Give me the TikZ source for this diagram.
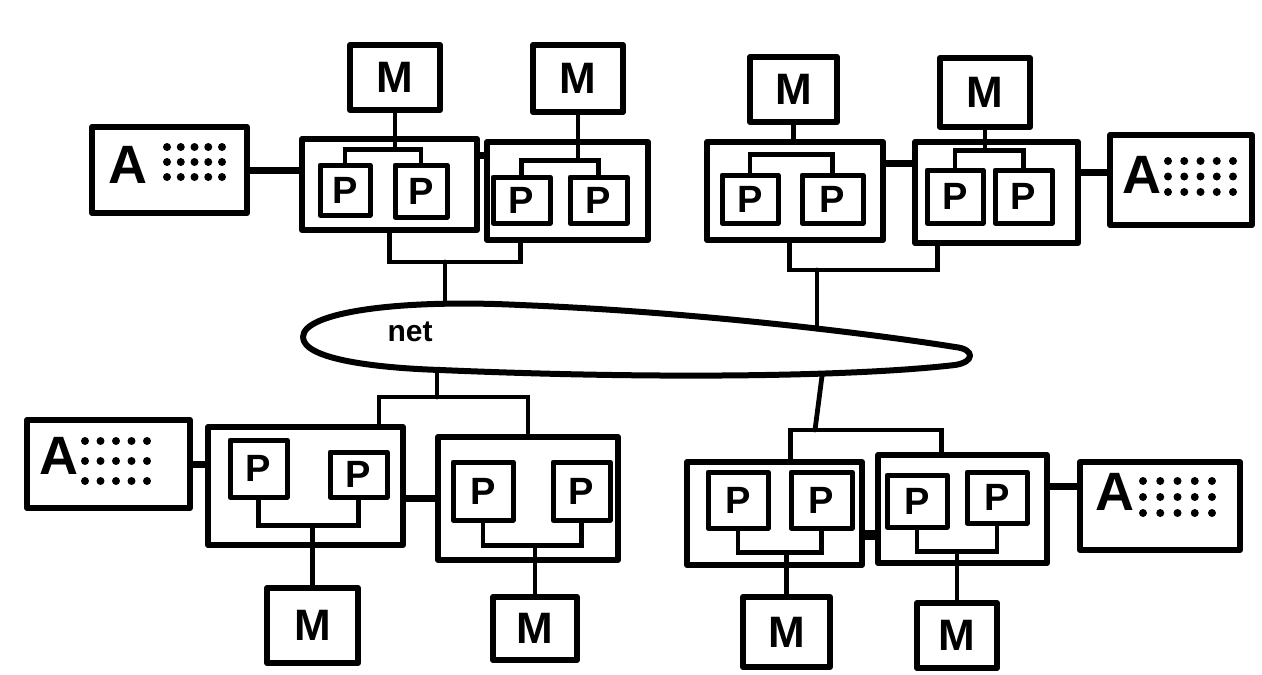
\documentclass[tikz,border=0pt]{standalone}
\usepackage{fontspec}
\setmainfont{Liberation Sans}
\usetikzlibrary{calc}
\tikzset{
  box/.style={draw, line width=6pt, rectangle, inner sep=0pt, line join=round},
  mbox/.style={box, font=\bfseries\fontsize{44}{44}\selectfont},
  pbox/.style={draw, line width=5pt, rectangle, inner sep=0pt, line join=round, font=\bfseries\fontsize{38}{38}\selectfont},
  wire/.style={line width=4.8pt, line cap=round},
  link/.style={line width=7pt},
  atext/.style={font=\bfseries\fontsize{54}{54}\selectfont, inner sep=0pt},
  nettext/.style={font=\bfseries\fontsize{30}{30}\selectfont, inner sep=0pt},
}
\newcommand\dotgrid[4]{%
  \foreach \i in {0,...,4}{\foreach \j in {0,1,2}{%
    \fill ({#1+\i*#3},{#2+\j*#4}) circle (4pt);}}}
\begin{document}
\begin{tikzpicture}[x=1pt,y=-1pt]
\useasboundingbox[fill=white] (0,0) rectangle (1262,675);

% ---------- top left group ----------
\node[box, minimum width=155pt, minimum height=86pt] (A1) at (169.5,170) {};
\node[atext] (A1t) at (128,165) {A};
\dotgrid{167}{147}{13.75}{15}
\node[box, minimum width=175pt, minimum height=91pt] (N1) at (389.5,184.5) {};
\node[box, minimum width=161pt, minimum height=98pt] (N2) at (567.5,191) {};
\node[mbox, minimum width=90pt, minimum height=65pt] (M1) at (395,77.5) {M};
\node[mbox, minimum width=90pt, minimum height=67pt] (M2) at (578,78.5) {M};
\node[pbox, minimum width=50pt, minimum height=50pt] (P1) at (345,190) {P};
\node[pbox, minimum width=52pt, minimum height=52pt] (P2) at (421,191) {P};
\node[pbox, minimum width=57pt, minimum height=46pt] (P3) at (521.5,200) {P};
\node[pbox, minimum width=57pt, minimum height=46pt] (P4) at (598.5,200) {P};

\draw[link] (A1.east) -- (A1.east -| N1.west);
\coordinate (l12) at ($(N1.north east)!0.2!(N1.south east)$);
\draw[link] (l12) -- (l12 -| N2.west);
\coordinate (b1) at ($(P1.north)+(0,-13)$);
\draw[wire] (P1.north) -- (b1) -| (P2.north);
\draw[wire] (M1.south) -- (M1.south |- b1);
\coordinate (b2) at ($(P3.north)+(0,-14)$);
\draw[wire] (P3.north) -- (b2) -| (P4.north);
\draw[wire] (M2.south) -- (M2.south |- b2);

% ---------- top right group ----------
\node[box, minimum width=176pt, minimum height=98pt] (N3) at (795,191) {};
\node[box, minimum width=163pt, minimum height=101pt] (N4) at (996.5,192.5) {};
\node[mbox, minimum width=87pt, minimum height=65pt] (M3) at (793.5,89.5) {M};
\node[mbox, minimum width=90pt, minimum height=69pt] (M4) at (985,92.5) {M};
\node[pbox, minimum width=56pt, minimum height=48pt] (P5) at (750,199) {P};
\node[pbox, minimum width=61pt, minimum height=48pt] (P6) at (832.5,199) {P};
\node[pbox, minimum width=56pt, minimum height=53pt] (P7) at (955,196.5) {P};
\node[pbox, minimum width=57pt, minimum height=53pt] (P8) at (1023.5,196.5) {P};
\node[box, minimum width=142pt, minimum height=90pt] (A2) at (1181,180) {};
\node[atext] (A2t) at (1142,175) {A};
\dotgrid{1168}{161}{16.25}{15.5}

\draw[wire] (M3.south) -- (M3.south |- N3.north);
\coordinate (b3) at ($(P5.north)+(0,-18)$);
\draw[wire] (P5.north) -- (b3) -| (P6.north);
\coordinate (b4) at ($(P7.north)+(0,-17)$);
\draw[wire] (P7.north) -- (b4) -| (P8.north);
\draw[wire] (M4.south) -- (M4.south |- b4);
\coordinate (l34) at ($(N3.north east)!0.235!(N3.south east)$);
\draw[link] (l34) -- (l34 -| N4.west);
\coordinate (l4a) at ($(A2.west)+(0,-8)$);
\draw[link] (l4a) -- (l4a -| N4.east);

% ---------- net ----------
\path[draw, line width=6pt, line join=round]
  (955,347) .. controls (880,335) and (700,312) .. (520,305)
  .. controls (400,299) and (303,312) .. (303,337)
  .. controls (303,360) and (380,368) .. (440,370)
  .. controls (650,379) and (850,377) .. (955,365)
  .. controls (975,362) and (975,349) .. (955,347) -- cycle;
\node[nettext] (netlbl) at (410,332) {net};
\coordinate (nT1) at (445,304);
\coordinate (nT2) at (817,329);
\coordinate (nB1) at (437,370);
\coordinate (nB2) at (822,376);

% top brackets
\coordinate (jTL) at (445,262);
\coordinate (n2b) at ($(N2.south west)!0.22!(N2.south east)$);
\draw[wire] (N1.south) -- (N1.south |- jTL) -- (jTL -| n2b) -- (n2b);
\draw[wire] (jTL) -- (nT1);
\coordinate (jTR) at (817,270);
\coordinate (n3b) at ($(N3.south west)!0.47!(N3.south east)$);
\coordinate (n4b) at ($(N4.south west)!0.15!(N4.south east)$);
\draw[wire] (n3b) -- (n3b |- jTR) -- (jTR -| n4b) -- (n4b);
\draw[wire] (jTR) -- (nT2);

% ---------- bottom left group ----------
\node[box, minimum width=163pt, minimum height=88pt] (A3) at (108.5,464) {};
\node[atext] (A3t) at (59,456) {A};
\dotgrid{85}{441}{15.5}{20}
\node[box, minimum width=195pt, minimum height=118pt] (N5) at (305.5,486) {};
\node[box, minimum width=180pt, minimum height=123pt] (N6) at (528,498.5) {};
\node[pbox, minimum width=57pt, minimum height=57pt] (P9) at (258.5,468.5) {P};
\node[pbox, minimum width=57pt, minimum height=45pt] (P10) at (358.5,474.5) {P};
\node[pbox, minimum width=60pt, minimum height=58pt] (P11) at (483,491) {P};
\node[pbox, minimum width=57pt, minimum height=58pt] (P12) at (581.5,491) {P};
\node[mbox, minimum width=91pt, minimum height=75pt] (M5) at (312.5,625.5) {M};
\node[mbox, minimum width=84pt, minimum height=63pt] (M6) at (535,628.5) {M};

\draw[link] (A3.east) -- (A3.east -| N5.west);
\coordinate (l56) at ($(N5.north east)!0.6!(N5.south east)$);
\draw[link] (l56) -- (l56 -| N6.west);
\coordinate (b5) at ($(P9.south)+(0,26)$);
\draw[wire] (P9.south) -- (b5) -| (P10.south);
\draw[wire] (M5.north) -- (M5.north |- b5);
\coordinate (b6) at ($(P11.south)+(0,23)$);
\draw[wire] (P11.south) -- (b6) -| (P12.south);
\draw[wire] (M6.north) -- (M6.north |- b6);

\coordinate (jBL) at (437,397);
\coordinate (n5t) at ($(N5.north west)!0.866!(N5.north east)$);
\draw[wire] (nB1) -- (jBL);
\draw[wire] (n5t) -- (n5t |- jBL) -- (jBL -| N6.north) -- (N6.north);

% ---------- bottom right group ----------
\node[box, minimum width=175pt, minimum height=103pt] (N7) at (774.5,513.5) {};
\node[box, minimum width=169pt, minimum height=108pt] (N8) at (962.5,509) {};
\node[pbox, minimum width=60pt, minimum height=56pt] (P13) at (738,500) {P};
\node[pbox, minimum width=61pt, minimum height=56pt] (P14) at (821.5,500) {P};
\node[pbox, minimum width=60pt, minimum height=52pt] (P15) at (917,501) {P};
\node[pbox, minimum width=60pt, minimum height=51pt] (P16) at (997,497.5) {P};
\node[mbox, minimum width=87pt, minimum height=70pt] (M7) at (786.5,632) {M};
\node[mbox, minimum width=80pt, minimum height=65pt] (M8) at (957,635.5) {M};
\node[box, minimum width=160pt, minimum height=88pt] (A4) at (1160,506) {};
\node[atext] (A4t) at (1115,492) {A};
\dotgrid{1143}{481}{17.25}{16}

\coordinate (l78) at ($(N7.north east)!0.7!(N7.south east)$);
\draw[line width=10pt] (l78) -- (l78 -| N8.west);
\coordinate (l8a) at ($(N8.north east)!0.3!(N8.south east)$);
\draw[link] (l8a) -- (l8a -| A4.west);
\coordinate (b7) at ($(P13.south)+(0,22)$);
\draw[wire] (P13.south) -- (b7) -| (P14.south);
\draw[wire] (M7.north) -- (M7.north |- b7);
\coordinate (b8) at ($(P15.south)+(0,22)$);
\draw[wire] (P15.south) -- (b8) -| (P16.south);
\draw[wire] (M8.north) -- (M8.north |- b8);

\coordinate (jBR) at (815,430);
\coordinate (n7t) at ($(N7.north west)!0.589!(N7.north east)$);
\coordinate (n8t) at ($(N8.north west)!0.379!(N8.north east)$);
\draw[wire] (nB2) -- (jBR);
\draw[wire] (n7t) -- (n7t |- jBR) -- (jBR -| n8t) -- (n8t);
\end{tikzpicture}
\end{document}
